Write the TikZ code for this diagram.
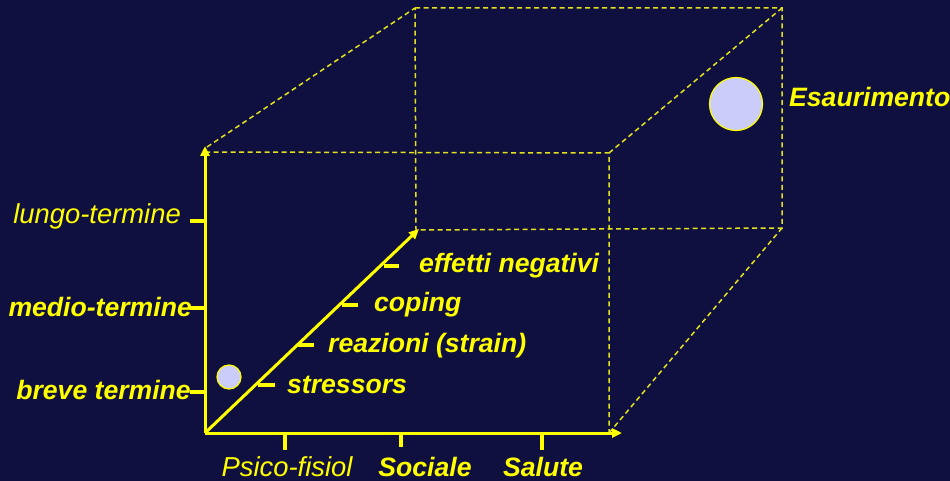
\documentclass[tikz,border=0pt]{standalone}
\usepackage{fontspec}
\setmainfont{Liberation Sans}
\usetikzlibrary{arrows.meta}
\definecolor{bgcol}{RGB}{16,16,64}
\definecolor{axcol}{RGB}{255,255,0}
\definecolor{edgecol}{RGB}{225,225,30}
\definecolor{ballcol}{RGB}{204,204,250}
\tikzset{
  axis/.style={axcol,line width=3pt,-{Triangle[length=10pt,width=9pt]}},
  edge/.style={edgecol,line width=1.5pt,dash pattern=on 5pt off 3.5pt},
  tick/.style={axcol,line width=3.6pt},
  lbl/.style={text=axcol,inner sep=0pt,font=\fontsize{26.6}{30}\selectfont\bfseries\itshape},
  lblr/.style={text=axcol,inner sep=0pt,font=\fontsize{27.4}{30}\selectfont\itshape},
  bubble/.style={circle,draw=axcol,line width=1.2pt,fill=ballcol,inner sep=0pt}
}
\begin{document}
\begin{tikzpicture}[x=1pt,y=-1pt]
\fill[bgcol] (0,0) rectangle (950,481);
\clip (0,0) rectangle (950,481);
\useasboundingbox (0,0) rectangle (950,481);
% cube corners
\coordinate (O) at (205,433);
\coordinate (Ftl) at (205,152);
\coordinate (Ftr) at (609,153);
\coordinate (Fbr) at (609,433);
\coordinate (Btl) at (415,8);
\coordinate (Btr) at (782,8);
\coordinate (Bbr) at (782,228);
\coordinate (Bbl) at (416,230);
\coordinate (Fdl) at (207,147);
\coordinate (Yend) at (205,146);
\coordinate (Xend) at (622,433);
\coordinate (Zend) at (419,229);
% dashed edges
\draw[edge] (Ftl) -- (Ftr) -- (Fbr);
\draw[edge] (Btl) -- (Btr) -- (Bbr) -- (Bbl) -- (Btl);
\draw[edge] (Fdl) -- (Btl);
\draw[edge] (Ftr) -- (Btr);
\draw[edge] (Fbr) -- (Bbr);
% axes
\draw[axis] (O) -- (Yend);
\draw[axis] (O) -- (Xend);
\draw[axis] (O) -- (Zend);
% ticks on vertical axis
\coordinate (ty1) at (205,221);
\coordinate (ty2) at (205,308);
\coordinate (ty3) at (205,392);
\draw[tick] (ty1) -- ++(-15,0);
\draw[tick] (ty2) -- ++(-15,0);
\draw[tick] (ty3) -- ++(-15,0);
\node[lblr,anchor=east] (lungo) at (181,216) {lungo-termine};
\node[lbl,anchor=east] (medio) at (192,307) {medio-termine};
\node[lbl,anchor=east] (breve) at (191,390) {breve termine};
% ticks on horizontal axis
\coordinate (tx1) at (285,433);
\coordinate (tx2) at (401,433);
\coordinate (tx3) at (542,433);
\draw[tick] (tx1) -- ++(0,17);
\draw[tick] (tx2) -- ++(0,14);
\draw[tick] (tx3) -- ++(0,17);
\node[lblr,anchor=center] (psico) at (287,467) {Psico-fisiol};
\node[lbl,anchor=center] (sociale) at (425,467) {Sociale};
\node[lbl,anchor=center] (salute) at (543,467) {Salute};
% ticks along diagonal
\draw[tick] (384,266) -- (399,266);
\draw[tick] (342,305) -- (358,305);
\draw[tick] (298,345) -- (314,345);
\draw[tick] (258,385) -- (275,385);
\node[lbl,anchor=west] (eff) at (419,266) {effetti negativi};
\node[lbl,anchor=west] (cop) at (374,305) {coping};
\node[lbl,anchor=west] (rea) at (328,346) {reazioni (strain)};
\node[lbl,anchor=west] (str) at (287,385) {stressors};
% bubbles
\node[bubble,minimum size=24pt] (small) at (229,377) {};
\node[bubble,minimum size=53pt] (big) at (736,104) {};
\node[lbl,anchor=west] (esa) at (789,97) {Esaurimento};
\end{tikzpicture}
\end{document}
